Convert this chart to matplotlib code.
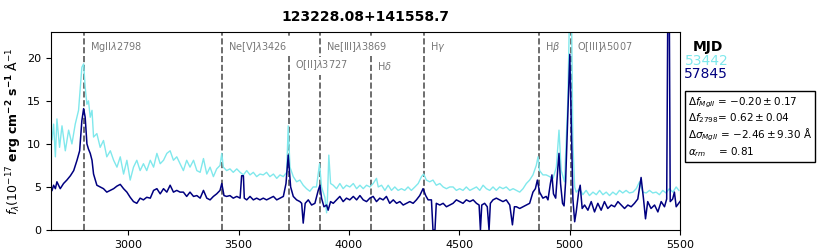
import matplotlib.pyplot as plt

# ------------------ DATA ------------------

title = "123228.08+141558.7"

# spectrum MJD 53442 (cyan)
wave_53442 = [2655, 2662, 2670, 2677, 2689, 2700, 2715, 2730, 2745, 2760, 2775, 2790, 2798, 2805,
              2813, 2820, 2828, 2836, 2843, 2858, 2873, 2888, 2903, 2919, 2934, 2949, 2964, 2979,
              2994, 3009, 3024, 3039, 3054, 3069, 3084, 3100, 3115, 3130, 3145, 3160, 3175, 3190,
              3205, 3220, 3235, 3250, 3265, 3280, 3296, 3311, 3326, 3341, 3356, 3371, 3386, 3401,
              3416, 3424, 3431, 3446, 3461, 3476, 3492, 3507, 3522, 3537, 3552, 3567, 3582, 3597,
              3612, 3627, 3642, 3658, 3673, 3688, 3703, 3718, 3725, 3733, 3748, 3763, 3778, 3793,
              3808, 3823, 3838, 3853, 3867, 3876, 3891, 3899, 3903, 3909, 3917, 3929, 3944, 3959,
              3974, 3989, 4004, 4020, 4035, 4050, 4065, 4080, 4095, 4110, 4125, 4133, 4148, 4163,
              4178, 4193, 4208, 4223, 4238, 4253, 4268, 4283, 4299, 4314, 4329, 4339, 4351, 4366,
              4381, 4396, 4412, 4427, 4442, 4457, 4472, 4487, 4502, 4517, 4532, 4548, 4563, 4578,
              4593, 4608, 4623, 4638, 4653, 4668, 4683, 4698, 4713, 4729, 4744, 4759, 4774, 4789,
              4804, 4819, 4834, 4849, 4857, 4864, 4879, 4894, 4910, 4925, 4940, 4952, 4962, 4977,
              4992, 5001, 5008, 5015, 5023, 5030, 5045, 5060, 5075, 5090, 5106, 5121, 5136, 5151,
              5166, 5181, 5196, 5211, 5226, 5241, 5256, 5271, 5287, 5302, 5317, 5332, 5347, 5362,
              5377, 5392, 5407, 5422, 5437, 5452, 5468, 5483, 5495]
flux_53442 = [10.5, 12.3, 8.5, 12.9, 9.6, 12.1, 9.2, 11.6, 10.0, 12.3, 13.9, 18.9, 19.3, 16.6,
              14.6, 15.0, 13.1, 13.9, 10.8, 11.2, 9.6, 10.4, 8.5, 9.2, 8.1, 7.3, 8.5, 6.5,
              8.1, 5.8, 7.3, 8.1, 6.9, 7.7, 6.9, 8.1, 7.3, 8.9, 7.7, 8.1, 8.9, 9.2,
              8.1, 8.5, 7.7, 6.9, 8.1, 7.3, 8.1, 6.9, 6.7, 8.3, 6.5, 7.3, 6.2, 7.1,
              7.5, 8.9, 7.3, 6.9, 7.1, 6.7, 7.1, 6.7, 6.4, 6.9, 6.4, 6.7, 6.2, 6.5,
              6.4, 6.7, 6.2, 6.5, 6.0, 6.4, 6.2, 6.7, 12.1, 7.3, 6.2, 5.6, 5.8, 5.2,
              4.8, 4.5, 5.0, 5.0, 7.7, 5.0, 3.8, 2.0, 3.8, 8.7, 5.4, 5.2, 4.8, 5.4,
              4.8, 5.2, 5.0, 5.4, 4.8, 5.2, 4.8, 5.2, 5.0, 5.4, 6.0, 5.0, 5.2, 4.6,
              5.2, 4.6, 5.0, 4.6, 4.8, 4.6, 5.0, 4.6, 5.0, 5.4, 6.2, 6.5, 5.8, 5.6,
              5.8, 5.2, 5.4, 5.0, 4.8, 5.0, 5.0, 4.6, 4.8, 4.6, 5.0, 4.6, 4.8, 5.0,
              4.6, 5.2, 4.8, 4.6, 5.0, 4.6, 5.0, 4.8, 5.0, 4.6, 4.8, 4.6, 4.4, 4.8,
              5.4, 5.8, 6.4, 7.5, 8.5, 6.9, 6.4, 6.4, 6.2, 6.0, 7.3, 11.6, 6.9, 5.6,
              15.0, 27.0, 27.0, 10.0, 5.0, 4.4, 4.8, 4.1, 4.6, 4.0, 4.4, 4.1, 4.6, 4.1,
              4.4, 4.0, 4.4, 4.1, 4.6, 4.3, 4.6, 4.3, 4.4, 4.8, 5.6, 4.4, 4.3, 4.6,
              4.3, 4.4, 4.1, 4.6, 4.3, 4.8, 4.4, 5.0, 4.6]

# spectrum MJD 57845 (navy)
wave_57845 = [2655, 2662, 2670, 2677, 2692, 2707, 2722, 2738, 2753, 2768, 2780, 2790, 2798, 2805,
              2813, 2820, 2828, 2836, 2843, 2858, 2873, 2888, 2903, 2919, 2934, 2949, 2964, 2979,
              2994, 3009, 3024, 3039, 3054, 3069, 3084, 3100, 3115, 3130, 3145, 3160, 3175, 3190,
              3205, 3220, 3235, 3250, 3265, 3280, 3296, 3311, 3326, 3341, 3356, 3371, 3386, 3401,
              3416, 3424, 3434, 3446, 3461, 3476, 3492, 3507, 3514, 3522, 3526, 3537, 3552, 3567,
              3582, 3597, 3612, 3627, 3642, 3658, 3673, 3688, 3703, 3715, 3725, 3736, 3748, 3763,
              3778, 3786, 3793, 3802, 3816, 3831, 3846, 3861, 3869, 3876, 3887, 3899, 3906, 3917,
              3929, 3944, 3959, 3974, 3989, 4004, 4020, 4035, 4050, 4065, 4080, 4095, 4110, 4125,
              4140, 4155, 4170, 4185, 4201, 4216, 4231, 4246, 4261, 4276, 4291, 4306, 4321, 4336,
              4348, 4359, 4374, 4381, 4390, 4396, 4412, 4427, 4442, 4457, 4472, 4487, 4502, 4517,
              4532, 4548, 4563, 4578, 4590, 4596, 4602, 4615, 4627, 4635, 4641, 4653, 4668, 4683,
              4698, 4713, 4729, 4741, 4750, 4759, 4774, 4789, 4804, 4819, 4834, 4845, 4854, 4864,
              4879, 4894, 4902, 4913, 4920, 4927, 4937, 4947, 4952, 4959, 4968, 4975, 4982, 4993,
              5001, 5008, 5015, 5023, 5030, 5041, 5048, 5057, 5068, 5083, 5098, 5113, 5128, 5143,
              5158, 5173, 5189, 5204, 5219, 5234, 5249, 5264, 5279, 5294, 5309, 5324, 5335, 5344,
              5354, 5369, 5385, 5400, 5415, 5430, 5440, 5446, 5451, 5456, 5467, 5475, 5483, 5500]
flux_57845 = [4.6, 5.2, 4.8, 5.6, 4.8, 5.4, 5.8, 6.3, 6.9, 8.1, 9.2, 12.7, 14.1, 13.1,
              10.0, 9.4, 8.9, 8.1, 6.5, 5.2, 5.0, 4.8, 4.4, 4.6, 4.8, 5.1, 5.3, 4.8,
              4.4, 3.8, 3.3, 3.1, 3.7, 3.5, 3.8, 3.7, 4.6, 4.8, 4.2, 4.8, 4.4, 5.2,
              4.4, 4.6, 4.4, 4.4, 3.9, 4.4, 3.9, 4.0, 3.7, 4.6, 3.7, 3.5, 3.9, 4.2,
              4.6, 5.4, 4.0, 3.9, 4.0, 3.7, 3.9, 3.7, 6.3, 6.3, 3.7, 3.5, 3.9, 3.5,
              3.7, 3.5, 3.7, 3.5, 3.7, 3.9, 3.5, 3.7, 3.9, 5.4, 8.7, 5.0, 3.9, 3.5,
              3.3, 3.1, 0.8, 3.1, 3.5, 2.9, 3.1, 4.6, 5.2, 3.7, 2.7, 2.9, 2.3, 3.3,
              3.1, 3.5, 3.9, 3.3, 3.7, 3.5, 3.9, 3.5, 4.0, 3.5, 3.3, 3.7, 3.9, 3.3,
              3.7, 3.5, 3.9, 3.1, 3.5, 3.1, 3.3, 2.9, 3.1, 3.3, 3.1, 3.5, 4.0, 4.8,
              4.0, 3.5, 3.5, 0.0, 0.0, 3.1, 2.9, 3.1, 2.7, 2.9, 3.1, 3.5, 3.3, 3.1,
              3.5, 3.3, 3.5, 3.1, 2.9, 0.0, 2.9, 3.1, 2.7, 0.0, 3.1, 3.5, 3.7, 3.5,
              3.3, 3.5, 2.9, 0.6, 2.7, 2.7, 2.5, 2.7, 2.9, 3.1, 4.4, 4.8, 5.8, 4.4,
              3.7, 3.9, 3.5, 5.4, 6.4, 4.2, 3.7, 7.3, 8.9, 5.4, 3.1, 2.8, 5.6, 14.1,
              20.4, 12.1, 3.6, 0.96, 2.1, 4.4, 5.2, 2.5, 2.9, 2.3, 3.3, 2.1, 3.1, 2.3,
              3.3, 2.5, 2.9, 2.7, 3.3, 2.9, 2.5, 2.9, 2.7, 3.1, 3.6, 6.1, 3.6, 1.3,
              3.3, 2.5, 2.9, 2.1, 3.3, 2.7, 3.6, 30.0, 30.0, 3.3, 3.6, 4.4, 2.7, 3.3]

# emission lines: name, wavelength, label row (0 = top, 1 = lower)
line_names = ["MgII$\\lambda$2798", "Ne[V]$\\lambda$3426", "O[II]$\\lambda$3727",
              "Ne[III]$\\lambda$3869", "H$\\delta$", "H$\\gamma$", "H$\\beta$",
              "O[III]$\\lambda$5007"]
line_waves = [2798, 3426, 3727, 3869, 4102, 4340, 4861, 5007]
line_rows = [0, 0, 1, 0, 1, 0, 0, 0]

mjds = ["53442", "57845"]
colors = ["#80E8EC", "navy"]

stats_text = ("$\\Delta f_{MgII}$ = $-0.20 \\pm 0.17$\n"
              "$\\Delta f_{2798}$= $0.62 \\pm 0.04$\n"
              "$\\Delta \\sigma_{MgII}$ = $-2.46 \\pm 9.30$ Å\n"
              "$\\alpha_{rm}$    = 0.81")

# ------------------ PLOT ------------------

fig = plt.figure(figsize=(8.3, 2.5), dpi=100)
ax = fig.add_axes([0.0614, 0.08, 0.7578, 0.792])

ax.plot(wave_53442, flux_53442, color=colors[0], lw=1.0)
ax.plot(wave_57845, flux_57845, color=colors[1], lw=1.1)

for name, w, row in zip(line_names, line_waves, line_rows):
    ax.axvline(w, color="#555555", ls="--", lw=1.2, zorder=1)
    ax.text(w + 27, 21.3 if row == 0 else 19.1, name, color="#777777",
            fontsize=7, va="center", ha="left", zorder=5,
            bbox=dict(fc="white", ec="none", pad=1.5))

ax.set_xlim(2650, 5500)
ax.set_ylim(0, 23)
ax.set_xticks([3000, 3500, 4000, 4500, 5000, 5500])
ax.set_yticks([0, 5, 10, 15, 20])
ax.tick_params(labelsize=8)
ax.set_ylabel("$f_\\lambda(10^{-17}$ $\\mathbf{erg\\ cm^{-2}\\ s^{-1}}$ Å$^{-1}$", fontsize=9)
ax.set_title(title, fontsize=10, fontweight="bold", pad=8)

fig.text(0.853, 0.81, "MJD", fontsize=10, fontweight="bold", ha="center", va="center")
fig.text(0.851, 0.756, mjds[0], fontsize=10, color=colors[0], ha="center", va="center")
fig.text(0.851, 0.704, mjds[1], fontsize=10, color=colors[1], ha="center", va="center")

fig.text(0.829, 0.492, stats_text, fontsize=7.5, ha="left", va="center", linespacing=1.15,
         bbox=dict(boxstyle="square,pad=0.3", fc="white", ec="black", lw=1))

fig.savefig("out.png", dpi=100)
